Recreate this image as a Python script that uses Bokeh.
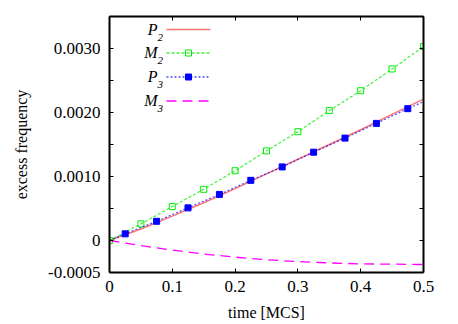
from bokeh.plotting import figure
from bokeh.models import Range1d, FixedTicker, LinearAxis, CustomJSTickFormatter
from bokeh.core.properties import value
from bokeh.embed import file_html
from bokeh.resources import INLINE

# ---------------- data ----------------
p2_x = [0, 0.05, 0.1, 0.15, 0.2, 0.25, 0.3, 0.35, 0.4, 0.45, 0.5]
p2_y = [0, 0.00018, 0.00038, 0.00059, 0.00081, 0.00104, 0.00127, 0.0015, 0.00173, 0.00197, 0.00221]

m2_x = [0, 0.05, 0.1, 0.15, 0.2, 0.25, 0.3, 0.35, 0.4, 0.45, 0.5]
m2_y = [0, 0.00026, 0.00053, 0.0008, 0.00109, 0.0014, 0.0017, 0.00203, 0.00234, 0.00268, 0.00303]

p3_x = [0, 0.025, 0.075, 0.125, 0.175, 0.225, 0.275, 0.325, 0.375, 0.425, 0.475, 0.5]
p3_y = [0, 0.000104, 0.0003, 0.00051, 0.00072, 0.00094, 0.00115, 0.00138, 0.0016, 0.00183, 0.00206, 0.00217]

m3_x = [0, 0.05, 0.1, 0.15, 0.2, 0.25, 0.3, 0.35, 0.4, 0.45, 0.5]
m3_y = [0, -0.00008, -0.00015, -0.00021, -0.00026, -0.0003, -0.00033, -0.00035, -0.000365, -0.00037, -0.000375]

x_ticks = [0, 0.1, 0.2, 0.3, 0.4, 0.5]
x_tick_labels = ["0", "0.1", "0.2", "0.3", "0.4", "0.5"]
y_ticks = [-0.0005, 0, 0.0005, 0.001, 0.0015, 0.002, 0.0025, 0.003, 0.0035]
y_tick_labels = ["-0.0005", "0", "", "0.0010", "", "0.0020", "", "0.0030", ""]

legend_main = ["P", "M", "P", "M"]
legend_sub = ["2", "2", "3", "3"]
legend_colors = ["#ff0000", "#00ee00", "#0000ff", "#ff00ff"]
legend_alpha = [0.55, 0.75, 0.7, 1.0]
legend_dash = ["solid", "3 2", "2 2", "10 6"]

# ---------------- layout ----------------
W, H = 458, 324
FL, FR, FT, FB = 109, 423, 16, 272   # frame edges in pixels
XMIN, XMAX, YMIN, YMAX = 0.0, 0.5, -0.0005, 0.0035

def dx(px):
    return XMIN + (px - FL) / (FR - FL) * (XMAX - XMIN)

def dy(py):
    return YMAX - (py - FT) / (FB - FT) * (YMAX - YMIN)

SERIF = "Liberation Serif"

p = figure(width=W, height=H, output_backend="svg", toolbar_location=None,
           x_range=Range1d(XMIN, XMAX), y_range=Range1d(YMIN, YMAX),
           min_border_left=FL, min_border_right=W - FR,
           min_border_top=FT, min_border_bottom=H - FB,
           background_fill_color="white", border_fill_color="white")
p.outline_line_color = None
p.xgrid.visible = False
p.ygrid.visible = False

def make_formatter(tv, tl):
    return CustomJSTickFormatter(args=dict(tv=tv, tl=tl), code="""
        let best = 0, bd = Infinity;
        for (let i = 0; i < tv.length; i++) {
            const d = Math.abs(tv[i] - tick);
            if (d < bd) { bd = d; best = i; }
        }
        return tl[best];
    """)

bottom = p.below[0]
left = p.left[0]

top = LinearAxis(ticker=FixedTicker(ticks=x_ticks), formatter=make_formatter(x_ticks, ["" for _ in x_ticks]))
p.add_layout(top, "above")
right = LinearAxis(ticker=FixedTicker(ticks=y_ticks), formatter=make_formatter(y_ticks, ["" for _ in y_ticks]))
p.add_layout(right, "right")

p.axis.axis_line_color = "black"
p.axis.axis_line_width = 2
p.axis.major_tick_in = 4
p.axis.major_tick_out = 0
p.axis.minor_tick_line_color = None
p.axis.major_tick_line_color = "black"
p.axis.major_tick_line_width = 1
p.axis.major_label_text_font = SERIF
p.axis.major_label_text_font_size = "17px"
p.axis.major_label_text_font_style = "normal"
p.axis.major_label_text_color = "black"
p.axis.axis_label_text_font = SERIF
p.axis.axis_label_text_font_size = "16px"
p.axis.axis_label_text_font_style = "normal"
p.axis.axis_label_text_color = "black"

bottom.ticker = FixedTicker(ticks=x_ticks)
bottom.formatter = make_formatter(x_ticks, x_tick_labels)
bottom.major_label_standoff = 8
bottom.axis_label = "time [MCS]"
bottom.axis_label_standoff = 9

left.ticker = FixedTicker(ticks=y_ticks)
left.formatter = make_formatter(y_ticks, y_tick_labels)
left.major_label_standoff = 9
left.axis_label = "excess frequency"
left.axis_label_standoff = 15

top.major_label_text_alpha = 0
right.major_label_text_alpha = 0

# ---------------- series ----------------
p.line(p2_x, p2_y, line_color=legend_colors[0], line_alpha=legend_alpha[0], line_width=1.5)
p.line(m2_x, m2_y, line_color=legend_colors[1], line_alpha=legend_alpha[1], line_width=1.2,
       line_dash=legend_dash[1])
p.scatter(m2_x, m2_y, marker="square", size=6, line_color=legend_colors[1],
          fill_color=None, line_width=1)
p.line(p3_x, p3_y, line_color=legend_colors[2], line_alpha=legend_alpha[2], line_width=1.2,
       line_dash=legend_dash[2])
p.scatter(p3_x[1:-1], p3_y[1:-1], marker="square", size=6, line_color=legend_colors[2],
          fill_color=legend_colors[2], line_width=1)
p.line(m3_x, m3_y, line_color=legend_colors[3], line_alpha=legend_alpha[3], line_width=1.3,
       line_dash=legend_dash[3])

# ---------------- custom legend (label left, sample right) ----------------
row_px = [29, 52.5, 76.5, 100.5]
for i in range(4):
    ry = dy(row_px[i])
    p.line([dx(166), dx(210)], [ry, ry], line_color=legend_colors[i], line_alpha=legend_alpha[i],
           line_width=1.3 if i != 0 else 1.5, line_dash=legend_dash[i])
    if i in (1, 2):
        p.scatter([dx(188)], [ry], marker="square", size=6, line_color=legend_colors[i],
                  fill_color=None if i == 1 else legend_colors[i])
    p.text([dx(157)], [dy(row_px[i] - 0.5)], text=[legend_main[i]], text_align="right",
           text_baseline="middle", text_font=value(SERIF), text_font_style="italic",
           text_font_size="16px", text_color="black")
    p.text([dx(157)], [dy(row_px[i] + 7.5)], text=[legend_sub[i]], text_align="left",
           text_baseline="middle", text_font=value(SERIF), text_font_style="italic",
           text_font_size="11px", text_color="black")

open("out.html", "w").write(file_html(p, INLINE))
